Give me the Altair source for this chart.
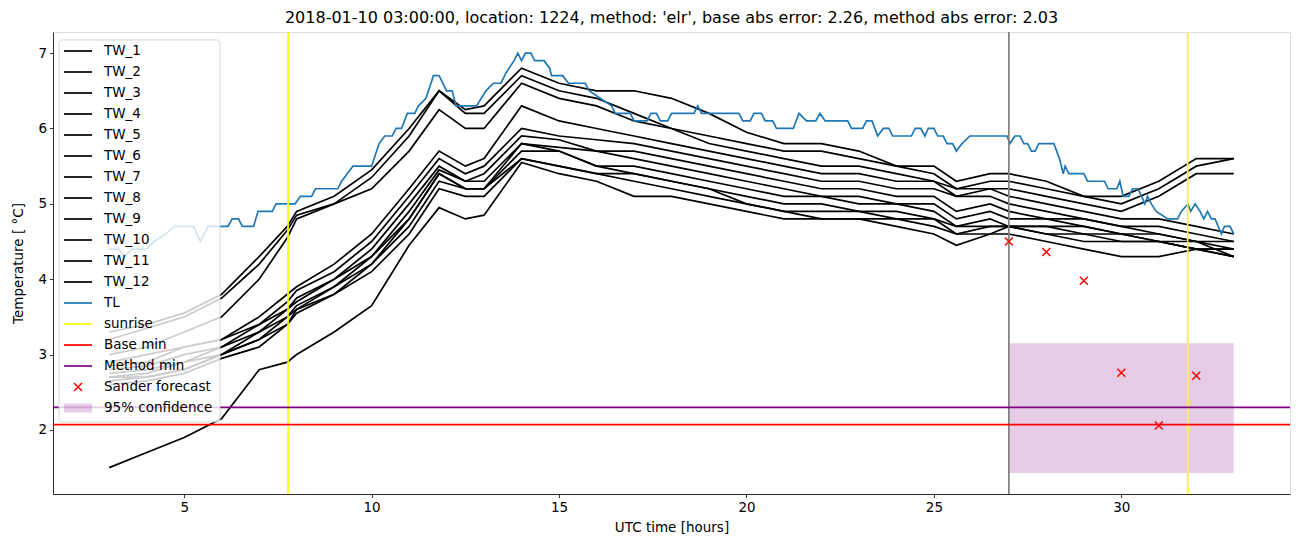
import altair as alt
import pandas as pd

# ---------------- data ----------------
HOURS = [3, 4, 5, 6, 7, 7.75, 8, 9, 10, 11, 11.8, 12.5, 13, 14, 15, 16, 17, 18, 19, 20,
         21, 22, 23, 24, 25, 25.6, 26.5, 27, 28, 29, 30, 31, 32, 33]

TW_1 = [3.3, 3.4, 3.55, 3.8, 4.3, 4.7, 4.9, 5.1, 5.45, 6.0, 6.5, 6.25, 6.3, 6.8, 6.6, 6.5, 6.5, 6.4, 6.2, 5.95,
        5.8, 5.8, 5.7, 5.5, 5.5, 5.3, 5.4, 5.4, 5.3, 5.1, 5.1, 5.3, 5.6, 5.6]
TW_2 = [3.2, 3.35, 3.5, 3.75, 4.2, 4.65, 4.85, 5.0, 5.35, 5.9, 6.5, 6.2, 6.2, 6.7, 6.5, 6.4, 6.2, 6.0, 5.9, 5.8,
        5.7, 5.7, 5.6, 5.5, 5.4, 5.2, 5.3, 5.3, 5.2, 5.1, 5.0, 5.2, 5.5, 5.6]
TW_3 = [3.0, 3.1, 3.3, 3.5, 4.0, 4.55, 4.8, 5.0, 5.2, 5.7, 6.25, 6.0, 6.0, 6.6, 6.4, 6.3, 6.1, 6.0, 5.8, 5.7,
        5.6, 5.5, 5.5, 5.4, 5.3, 5.1, 5.2, 5.2, 5.1, 5.0, 4.9, 5.1, 5.4, 5.4]
TW_4 = [2.9, 3.0, 3.1, 3.2, 3.5, 3.8, 3.9, 4.2, 4.6, 5.2, 5.7, 5.5, 5.6, 6.3, 6.1, 6.0, 5.9, 5.8, 5.7, 5.6,
        5.5, 5.4, 5.4, 5.3, 5.3, 5.2, 5.2, 5.1, 5.0, 4.9, 4.8, 4.8, 4.7, 4.6]
TW_5 = [2.85, 2.9, 3.1, 3.2, 3.4, 3.7, 3.85, 4.1, 4.5, 5.1, 5.6, 5.4, 5.5, 6.0, 5.9, 5.85, 5.8, 5.7, 5.6, 5.5,
        5.4, 5.3, 5.3, 5.2, 5.2, 5.1, 5.1, 5.0, 4.9, 4.8, 4.7, 4.7, 4.6, 4.5]
TW_6 = [2.8, 2.85, 3.0, 3.1, 3.4, 3.6, 3.75, 4.0, 4.4, 5.0, 5.5, 5.3, 5.4, 5.9, 5.85, 5.7, 5.7, 5.6, 5.5, 5.4,
        5.3, 5.2, 5.2, 5.1, 5.1, 4.9, 5.0, 4.9, 4.8, 4.8, 4.7, 4.6, 4.5, 4.5]
TW_7 = [2.75, 2.8, 2.9, 3.1, 3.3, 3.6, 3.7, 4.0, 4.3, 4.9, 5.45, 5.3, 5.3, 5.8, 5.75, 5.7, 5.6, 5.5, 5.4, 5.3,
        5.2, 5.1, 5.1, 5.0, 5.0, 4.8, 4.9, 4.8, 4.8, 4.7, 4.6, 4.6, 4.5, 4.4]
TW_8 = [2.7, 2.75, 2.9, 3.0, 3.3, 3.5, 3.65, 3.9, 4.3, 4.8, 5.4, 5.2, 5.2, 5.8, 5.7, 5.5, 5.5, 5.4, 5.3, 5.2,
        5.1, 5.1, 5.0, 5.0, 4.9, 4.7, 4.8, 4.7, 4.7, 4.7, 4.6, 4.5, 4.4, 4.4]
TW_9 = [2.7, 2.7, 2.8, 3.0, 3.2, 3.5, 3.6, 3.9, 4.2, 4.8, 5.4, 5.2, 5.2, 5.7, 5.7, 5.5, 5.4, 5.3, 5.2, 5.1,
        5.0, 5.0, 4.9, 4.9, 4.8, 4.7, 4.7, 4.7, 4.7, 4.6, 4.6, 4.5, 4.5, 4.3]
TW_10 = [2.65, 2.7, 2.8, 3.0, 3.2, 3.4, 3.6, 3.8, 4.2, 4.7, 5.3, 5.2, 5.2, 5.6, 5.5, 5.4, 5.4, 5.3, 5.2, 5.0,
         4.9, 4.9, 4.9, 4.8, 4.8, 4.6, 4.7, 4.7, 4.6, 4.6, 4.5, 4.5, 4.4, 4.4]
TW_11 = [2.6, 2.65, 2.75, 2.95, 3.1, 3.4, 3.55, 3.8, 4.1, 4.6, 5.2, 5.1, 5.1, 5.6, 5.5, 5.4, 5.3, 5.2, 5.1, 5.0,
         4.9, 4.8, 4.8, 4.8, 4.7, 4.6, 4.6, 4.7, 4.6, 4.5, 4.5, 4.5, 4.4, 4.3]
TW_12 = [1.5, 1.7, 1.9, 2.15, 2.8, 2.9, 3.0, 3.3, 3.65, 4.45, 4.95, 4.8, 4.85, 5.55, 5.4, 5.3, 5.1, 5.1, 5.0, 4.9,
         4.8, 4.8, 4.8, 4.7, 4.6, 4.45, 4.6, 4.6, 4.5, 4.4, 4.3, 4.3, 4.4, 4.3]

TL_HOURS = [3.0, 3.25, 3.4, 3.6, 4.0, 4.2, 4.5, 4.75, 5.25, 5.43, 5.64, 6.17, 6.28, 6.45, 6.55, 6.85, 6.97,
            7.35, 7.45, 7.96, 8.1, 8.4, 8.5, 9.1, 9.2, 9.35, 9.5, 10.0, 10.2, 10.35, 10.55, 10.65, 10.8, 10.95,
            11.15, 11.25, 11.45, 11.65, 11.8, 12.0, 12.15, 12.25, 12.8, 13.05, 13.25, 13.45, 13.6, 13.8, 13.9,
            14.0, 14.1, 14.25, 14.35, 14.6, 14.75, 14.8, 15.1, 15.25, 15.7, 15.8, 16.1, 16.4, 16.5, 16.9, 17.0,
            17.35, 17.45, 17.6, 17.7, 17.9, 18.0, 18.6, 18.7, 18.8, 19.8, 19.9, 20.1, 20.2, 20.4, 20.5, 20.7,
            20.8, 21.25, 21.4, 21.6, 21.85, 21.96, 22.1, 22.7, 22.8, 23.1, 23.2, 23.35, 23.5, 23.65, 23.8, 23.9,
            24.4, 24.5, 24.65, 24.76, 24.85, 25.0, 25.1, 25.25, 25.35, 25.5, 25.6, 25.75, 25.96, 26.95, 27.03,
            27.16, 27.3, 27.4, 27.5, 27.6, 27.7, 27.8, 28.2, 28.35, 28.45, 28.5, 28.6, 29.0, 29.1, 29.55, 29.65,
            29.88, 29.96, 30.05, 30.2, 30.3, 30.45, 30.54, 30.63, 30.7, 30.8, 30.93, 31.24, 31.5, 31.6, 31.78,
            31.85, 31.97, 32.1, 32.2, 32.3, 32.4, 32.5, 32.67, 32.75, 32.9, 33.0]
TL_VALUES = [4.4, 4.4, 4.3, 4.4, 4.4, 4.5, 4.6, 4.7, 4.7, 4.5, 4.7, 4.7, 4.8, 4.8, 4.7, 4.7, 4.9,
             4.9, 5.0, 5.0, 5.1, 5.1, 5.2, 5.2, 5.3, 5.4, 5.5, 5.5, 5.8, 5.9, 5.9, 6.0, 6.0, 6.2,
             6.2, 6.3, 6.4, 6.7, 6.7, 6.5, 6.5, 6.3, 6.3, 6.5, 6.6, 6.6, 6.75, 6.9, 7.0,
             6.9, 7.0, 7.0, 6.9, 6.9, 6.8, 6.7, 6.7, 6.6, 6.6, 6.5, 6.4, 6.3, 6.2, 6.2, 6.1,
             6.1, 6.2, 6.2, 6.1, 6.1, 6.2, 6.2, 6.3, 6.2, 6.2, 6.1, 6.1, 6.2, 6.2, 6.1, 6.1,
             6.0, 6.0, 6.2, 6.1, 6.1, 6.2, 6.1, 6.1, 6.0, 6.0, 6.1, 6.1, 5.9, 6.0, 6.0, 5.9,
             5.9, 6.0, 6.0, 5.9, 6.0, 6.0, 5.9, 5.9, 5.8, 5.8, 5.7, 5.8, 5.9, 5.9, 5.8,
             5.9, 5.9, 5.8, 5.8, 5.7, 5.7, 5.8, 5.8, 5.6, 5.4, 5.5, 5.4, 5.4, 5.3, 5.3, 5.2,
             5.2, 5.3, 5.1, 5.1, 5.2, 5.2, 5.1, 5.0, 5.1, 5.0, 4.9, 4.8, 4.8, 4.9, 5.0,
             4.9, 5.0, 4.9, 4.8, 4.9, 4.8, 4.8, 4.6, 4.7, 4.7, 4.6]

SUNRISE = [7.77, 31.77]
FORECAST_TIME = [27.0]
BASE_MIN = [2.07]
METHOD_MIN = [2.30]
SANDER_HOURS = [27, 28, 29, 30, 31, 32]
SANDER_VALUES = [4.50, 4.36, 3.98, 2.76, 2.06, 2.72]
CONF_START, CONF_END = [27.0], [33.0]
CONF_LOW, CONF_HIGH = [1.43], [3.15]

TITLE = "2018-01-10 03:00:00, location: 1224, method: 'elr', base abs error: 2.26, method abs error: 2.03"
LEGEND_LABELS = [f"TW_{i}" for i in range(1, 13)] + ["TL", "sunrise", "Base min", "Method min",
                                                     "Sander forecast", "95% confidence"]
LEGEND_COLORS = ["black"] * 12 + ["#1f77b4", "yellow", "red", "purple", "red", "purple"]
LEGEND_KINDS = ["line"] * 16 + ["x", "patch"]

# ---------------- layout ----------------
W, H = 1237, 462
FONT = "DejaVu Sans"
LW = 1.7
XDOM = [1.5, 34.5]
YDOM = [1.15, 7.28]
xs = alt.Scale(domain=XDOM, nice=False, zero=False)
ys = alt.Scale(domain=YDOM, nice=False, zero=False)

tw_series = [TW_1, TW_2, TW_3, TW_4, TW_5, TW_6, TW_7, TW_8, TW_9, TW_10, TW_11, TW_12]
rows = []
for i, vals in enumerate(tw_series):
    for h, v in zip(HOURS, vals):
        rows.append({"series": f"TW_{i+1}", "hour": h, "temp": v})
tw_df = pd.DataFrame(rows)
tl_df = pd.DataFrame({"hour": TL_HOURS, "temp": TL_VALUES})

x_axis = alt.Axis(values=[5, 10, 15, 20, 25, 30], format="d", title="UTC time [hours]", grid=False,
                  tickSize=3.5, tickColor="black", tickWidth=0.8, domainColor="black", domainWidth=0.8,
                  labelFont=FONT, labelFontSize=13.5, labelColor="black", labelPadding=3,
                  titleFont=FONT, titleFontSize=13.5, titleFontWeight="normal", titleColor="black",
                  titlePadding=6, labelFlush=False)
y_axis = alt.Axis(values=[2, 3, 4, 5, 6, 7], format="d", title="Temperature [ °C]", grid=False,
                  tickSize=3.5, tickColor="black", tickWidth=0.8, domainColor="black", domainWidth=0.8,
                  labelFont=FONT, labelFontSize=13.5, labelColor="black", labelPadding=3,
                  titleFont=FONT, titleFontSize=13.5, titleFontWeight="normal", titleColor="black",
                  titlePadding=12, labelFlush=False)

conf = alt.Chart(pd.DataFrame({"a": CONF_START, "b": CONF_END, "lo": CONF_LOW, "hi": CONF_HIGH})).mark_rect(
    color="purple", opacity=0.2).encode(
    x=alt.X("a:Q", scale=xs, axis=x_axis), x2="b:Q",
    y=alt.Y("lo:Q", scale=ys, axis=y_axis), y2="hi:Q")

tw = alt.Chart(tw_df).mark_line(color="black", strokeWidth=LW).encode(
    x=alt.X("hour:Q", scale=xs), y=alt.Y("temp:Q", scale=ys), detail="series:N")

tl = alt.Chart(tl_df).mark_line(color="#1f77b4", strokeWidth=LW).encode(
    x=alt.X("hour:Q", scale=xs), y=alt.Y("temp:Q", scale=ys))

sunrise = alt.Chart(pd.DataFrame({"h": SUNRISE})).mark_rule(color="yellow", strokeWidth=LW).encode(
    x=alt.X("h:Q", scale=xs))
now = alt.Chart(pd.DataFrame({"h": FORECAST_TIME})).mark_rule(color="grey", strokeWidth=LW).encode(
    x=alt.X("h:Q", scale=xs))
base = alt.Chart(pd.DataFrame({"v": BASE_MIN})).mark_rule(color="red", strokeWidth=LW).encode(
    y=alt.Y("v:Q", scale=ys))
method = alt.Chart(pd.DataFrame({"v": METHOD_MIN})).mark_rule(color="purple", strokeWidth=LW).encode(
    y=alt.Y("v:Q", scale=ys))
XPATH = "M-1,-1L1,1M-1,1L1,-1"
sander = alt.Chart(pd.DataFrame({"h": SANDER_HOURS, "v": SANDER_VALUES})).mark_point(
    shape=XPATH, size=64, stroke="red", strokeWidth=1.5, filled=False, opacity=1).encode(
    x=alt.X("h:Q", scale=xs), y=alt.Y("v:Q", scale=ys))

main = alt.layer(conf, tw, tl, sunrise, now, base, method, sander)

# ---------------- legend (drawn manually, matplotlib style) ----------------
leg_df = pd.DataFrame({"label": LEGEND_LABELS, "color": LEGEND_COLORS, "kind": LEGEND_KINDS})
leg_df["ypix"] = 19 + 21 * leg_df.index
leg_df["ytop"] = leg_df["ypix"] - 4.5
leg_df["ybot"] = leg_df["ypix"] + 4.5
pix = alt.Scale(domain=[0, H], range=[0, H])

box = alt.Chart(pd.DataFrame({"k": [0]})).mark_rect(
    fill="white", fillOpacity=0.8, stroke="#cccccc", strokeOpacity=0.8, strokeWidth=1, cornerRadius=3).encode(
    x=alt.value(6), x2=alt.value(167), y=alt.value(8), y2=alt.value(390))
leg_lines = alt.Chart(leg_df).transform_filter("datum.kind == 'line'").mark_rule(strokeWidth=LW).encode(
    x=alt.value(11), x2=alt.value(39), y=alt.Y("ypix:Q", scale=pix, axis=None),
    color=alt.Color("color:N", scale=None))
leg_x = alt.Chart(leg_df).transform_filter("datum.kind == 'x'").mark_point(
    shape=XPATH, size=64, stroke="red", strokeWidth=1.5, filled=False, opacity=1).encode(
    x=alt.value(25), y=alt.Y("ypix:Q", scale=pix, axis=None))
leg_patch = alt.Chart(leg_df).transform_filter("datum.kind == 'patch'").mark_rect(
    color="purple", opacity=0.2).encode(
    x=alt.value(11), x2=alt.value(39), y=alt.Y("ytop:Q", scale=pix, axis=None), y2="ybot:Q")
leg_text = alt.Chart(leg_df).mark_text(align="left", baseline="middle", font=FONT, fontSize=13.5,
                                      color="black").encode(
    x=alt.value(51), y=alt.Y("ypix:Q", scale=pix, axis=None), text="label:N")

legend = alt.layer(box, leg_lines, leg_x, leg_patch, leg_text)

chart = alt.layer(main, legend).resolve_scale(x="independent", y="independent").properties(
    width=W, height=H,
    title=alt.TitleParams(text=TITLE, font=FONT, fontSize=16, fontWeight="normal", color="black",
                          anchor="middle", offset=5),
    padding={"left": 53, "top": 32, "right": 12, "bottom": 53},
    autosize=alt.AutoSizeParams(type="none"),
).configure_view(stroke="black", strokeWidth=0.8).configure(background="white")

chart.save("out.html", embed_options={"renderer": "svg", "actions": False})
